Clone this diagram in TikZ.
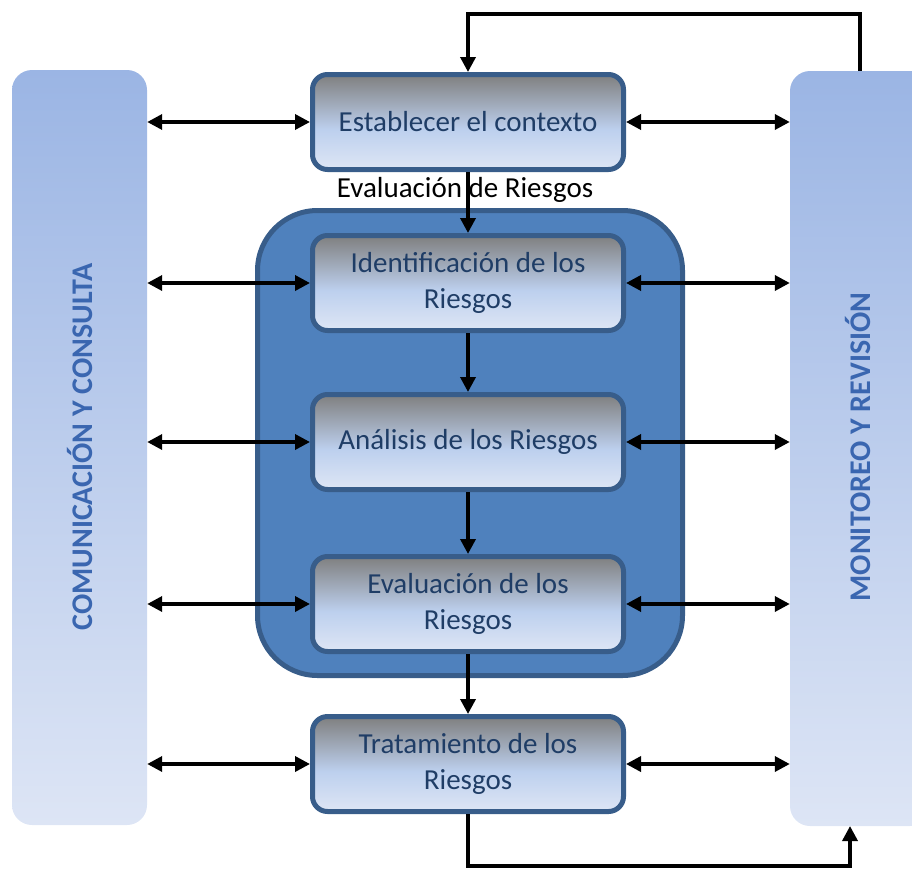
\documentclass[tikz,border=0pt]{standalone}
\usepackage{fontspec}
\setmainfont{Carlito}
\usetikzlibrary{arrows.meta}

\definecolor{barTop}{HTML}{9BB5E4}
\definecolor{barBot}{HTML}{DDE5F5}
\definecolor{boxTop}{HTML}{7F7F7F}
\definecolor{boxMid}{HTML}{BDD0EE}
\definecolor{boxBot}{HTML}{DEE6F5}
\definecolor{boxLine}{HTML}{385D8A}
\definecolor{zoneFill}{HTML}{4F81BD}
\definecolor{boxText}{HTML}{1F3D66}
\definecolor{barText}{HTML}{3A66B0}

\pgfdeclareverticalshading{stageshade}{100bp}{color(0bp)=(boxBot); color(25bp)=(boxBot);
  color(46bp)=(boxMid); color(75bp)=(boxTop); color(100bp)=(boxTop)}

\begin{document}
\begin{tikzpicture}[x=1pt,y=-1pt,
  bar/.style={rounded corners=20pt,top color=barTop,bottom color=barBot,minimum width=#1,minimum height=755pt,inner sep=0pt},
  bartext/.style={rotate=90,text=barText,font=\fontsize{30}{34}\selectfont\bfseries},
  stage/.style={draw=boxLine,line width=5pt,rounded corners=15pt,shading=stageshade,
    minimum width=311pt,minimum height=95pt,align=center,text=boxText,font=\fontsize{29}{36}\selectfont},
  flow/.style={line width=3.5pt,-{Triangle[length=15pt,width=15pt]}},
  both/.style={line width=3.5pt,{Triangle[length=15pt,width=15pt]}-{Triangle[length=15pt,width=15pt]}}]

\clip (0,0) rectangle (912,870);

% side bars
\node[bar=135pt] (com) at (79.5,447.5) {};
\node[bar=140pt] (mon) at (860,448.5) {};
\node[bartext] (comtxt) at (80,447) {COMUNICACIÓN Y CONSULTA};
\node[bartext] (montxt) at (858,447) {MONITOREO Y REVISIÓN};

% evaluation zone
\node[draw=boxLine,line width=5pt,fill=zoneFill,rounded corners=60pt,minimum width=425pt,minimum height=465pt] (zone) at (470,443) {};

\node[stage] (ctx) at (468,122) {Establecer el contexto};
\node[stage] (ident) at (468,283) {Identificación de los\\Riesgos};
\node[stage] (anal) at (468,442) {Análisis de los Riesgos};
\node[stage] (evalr) at (468,604) {Evaluación de los\\Riesgos};
\node[stage] (trat) at (468,764) {Tratamiento de los\\Riesgos};

\node[font=\fontsize{29}{34}\selectfont] (zonelbl) at (465,190) {Evaluación de Riesgos};

% main flow
\draw[flow] (ctx) -- (ident);
\draw[flow] (ident) -- (anal);
\draw[flow] (anal) -- (evalr);
\draw[flow] (evalr) -- (trat);

% links to the side bars
\foreach \s in {ctx,ident,anal,evalr,trat}{
  \draw[both] (com.east |- \s.west) -- (\s.west);
  \draw[both] (\s.east) -- (mon.west |- \s.east);
}

% feedback loop
\coordinate (monin) at (850,826);
\draw[flow] (mon.north) -- ++(0,-57) -| (ctx.north);
\draw[flow] (trat.south) -- ++(0,52) -| (monin);

\end{tikzpicture}
\end{document}
